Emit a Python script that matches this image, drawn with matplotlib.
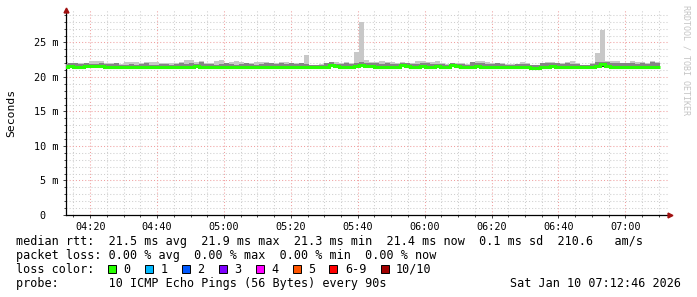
import numpy as np
import matplotlib
matplotlib.use('Agg')
import matplotlib.pyplot as plt
import matplotlib.dates as mdates
from matplotlib.ticker import MultipleLocator, FuncFormatter
from matplotlib.patches import Rectangle
from datetime import datetime, timedelta

plt.rcParams['font.family'] = ['DejaVu Sans Mono']

# ---- data (ms), one bin per 90s probe round ----
t_first = datetime(2026, 1, 10, 4, 12, 0)
t_view0 = datetime(2026, 1, 10, 4, 12, 46)
t_view1 = datetime(2026, 1, 10, 7, 12, 46)
step_s = 90

med = [21.5, 21.6, 21.5, 21.5, 21.6, 21.6, 21.6, 21.6, 21.5, 21.5,
       21.5, 21.4, 21.4, 21.5, 21.5, 21.5, 21.5, 21.5, 21.5, 21.4,
       21.4, 21.5, 21.5, 21.4, 21.5, 21.5, 21.6, 21.5, 21.5, 21.5,
       21.5, 21.5, 21.5, 21.5, 21.4, 21.5, 21.5, 21.4, 21.4, 21.5,
       21.5, 21.5, 21.4, 21.4, 21.5, 21.4, 21.5, 21.4, 21.5, 21.4,
       21.4, 21.5, 21.4, 21.8, 21.6, 21.5, 21.5, 21.5, 21.6, 21.7,
       21.6, 21.6, 21.5, 21.5, 21.4, 21.5, 21.5, 21.8, 21.6, 21.5,
       21.5, 21.6, 21.5, 21.5, 21.6, 21.5, 21.5, 21.8, 21.6, 21.5,
       21.5, 21.4, 21.6, 21.5, 21.5, 21.5, 21.5, 21.5, 21.4, 21.4,
       21.5, 21.5, 21.4, 21.3, 21.3, 21.5, 21.5, 21.6, 21.5, 21.5,
       21.5, 21.5, 21.5, 21.4, 21.4, 21.5, 21.6, 21.9, 21.6, 21.5,
       21.5, 21.4, 21.4, 21.5, 21.5, 21.5, 21.5, 21.5, 21.5]

ping_max = [22.21, 22.07, 22.07, 22.02, 22.02, 22.31, 22.36, 22.26, 22.07, 22.02,
            22.07, 21.92, 22.21, 22.21, 22.21, 22.02, 22.11, 22.21, 22.21, 22.02,
            22.02, 22.02, 21.97, 22.11, 22.50, 22.50, 22.21, 22.36, 22.02, 22.02,
            22.26, 22.50, 22.02, 22.11, 22.36, 22.11, 22.02, 22.02, 22.21, 22.21,
            22.11, 22.02, 22.02, 22.11, 22.11, 22.07, 22.07, 22.07, 23.22, 21.78,
            21.78, 21.92, 22.02, 22.21, 22.21, 22.02, 22.21, 22.02, 23.56, 27.90,
            22.50, 22.11, 22.11, 22.36, 22.21, 22.11, 22.02, 22.21, 22.02, 22.02,
            22.26, 22.26, 22.11, 22.21, 22.36, 22.02, 21.92, 22.02, 22.02, 22.02,
            21.92, 22.21, 22.36, 22.31, 22.21, 22.02, 22.02, 22.02, 21.88, 21.88,
            21.92, 22.21, 22.02, 21.78, 21.78, 22.02, 22.21, 22.11, 22.02, 22.02,
            22.21, 22.36, 22.02, 21.78, 21.78, 22.02, 23.46, 26.80, 22.26, 22.26,
            22.26, 22.02, 22.02, 22.36, 22.11, 22.21, 22.02, 22.36, 22.11]

ping_upper = [21.9, 22.0, 22.0, 21.9, 22.0, 21.9, 21.9, 22.0, 21.9, 21.9,
              22.0, 21.8, 21.8, 21.9, 21.8, 21.9, 22.0, 21.8, 21.8, 21.9,
              21.9, 21.8, 21.9, 22.0, 21.9, 22.0, 21.9, 22.1, 21.9, 21.9,
              21.8, 21.9, 22.0, 21.9, 21.8, 21.9, 22.0, 21.9, 21.8, 21.9,
              22.0, 22.0, 21.9, 22.0, 21.9, 22.0, 21.9, 22.0, 21.9, 21.7,
              21.7, 21.8, 22.0, 22.1, 21.9, 21.9, 22.0, 21.9, 22.0, 22.1,
              22.0, 22.0, 22.0, 21.9, 22.0, 21.9, 21.9, 22.0, 22.0, 21.9,
              21.9, 22.0, 22.0, 21.9, 21.9, 21.9, 21.8, 22.0, 21.9, 21.9,
              21.8, 22.1, 22.0, 22.0, 21.9, 21.9, 22.0, 21.9, 21.8, 21.8,
              21.9, 21.9, 21.9, 21.7, 21.7, 22.0, 22.0, 22.0, 22.0, 21.9,
              22.0, 21.9, 21.9, 21.7, 21.7, 21.9, 22.1, 22.2, 22.1, 22.0,
              22.0, 22.0, 22.0, 22.0, 21.9, 22.0, 21.9, 22.1, 22.0]

ping_min = [21.3, 21.4, 21.2, 21.3, 21.4, 21.4, 21.4, 21.4, 21.3, 21.3,
            21.3, 21.2, 21.2, 21.3, 21.3, 21.3, 21.3, 21.3, 21.3, 21.2,
            21.2, 21.3, 21.3, 21.2, 21.3, 21.3, 21.4, 21.3, 21.3, 21.3,
            21.3, 21.3, 21.3, 21.3, 21.2, 21.3, 21.3, 21.2, 21.2, 21.3,
            21.3, 21.3, 21.2, 21.2, 21.3, 21.2, 21.3, 21.2, 21.3, 21.2,
            21.2, 21.3, 21.1, 21.6, 21.4, 21.3, 21.3, 21.3, 21.4, 21.5,
            21.4, 21.4, 21.3, 21.3, 21.2, 21.3, 21.3, 21.5, 21.4, 21.3,
            21.3, 21.4, 21.3, 21.3, 21.4, 21.3, 21.3, 21.5, 21.4, 21.3,
            21.3, 21.1, 21.4, 21.3, 21.3, 21.3, 21.3, 21.3, 21.2, 21.2,
            21.3, 21.3, 21.2, 21.1, 21.1, 21.3, 21.3, 21.4, 21.3, 21.3,
            21.3, 21.3, 21.3, 21.2, 21.2, 21.3, 21.4, 21.5, 21.4, 21.3,
            21.3, 21.2, 21.2, 21.3, 21.3, 21.3, 21.3, 21.3, 21.3]

loss_labels = ['0', '1', '2', '3', '4', '5', '6-9', '10/10']
loss_colors = ['#26ff00', '#00b8ff', '#0059ff', '#7e00ff', '#ff00ff',
               '#ff5500', '#ff0000', '#a10000']

W, H = 697, 297
fig = plt.figure(figsize=(W / 100, H / 100), dpi=100)
fig.patch.set_facecolor('white')
ax = fig.add_axes([66 / W, (H - 215) / H, (668 - 66) / W, (215 - 10) / H])

edges = [t_first + timedelta(seconds=step_s * i) for i in range(len(med) + 1)]
xe = mdates.date2num(edges)

# smoke: light outer, darker inner, then the median line
ax.stairs(ping_max, xe, baseline=ping_min, fill=True, color='#c8c8c8', zorder=2)
ax.stairs(ping_upper, xe, baseline=ping_min, fill=True, color='#858585', zorder=3)
ax.stairs(med, xe, baseline=ping_min, fill=True, color='#303030', zorder=4)
ax.stairs(med, xe, baseline=None, color='#26ff00', linewidth=2.2, zorder=5)

ax.set_xlim(mdates.date2num(t_view0), mdates.date2num(t_view1))
ax.set_ylim(0, 29.7)

ax.xaxis.set_major_locator(mdates.MinuteLocator(byminute=[0, 20, 40]))
ax.xaxis.set_minor_locator(mdates.MinuteLocator(byminute=range(0, 60, 5)))
ax.xaxis.set_major_formatter(mdates.DateFormatter('%H:%M'))
ax.yaxis.set_major_locator(MultipleLocator(5))
ax.yaxis.set_minor_locator(MultipleLocator(1))
ax.yaxis.set_major_formatter(FuncFormatter(lambda v, p: '0  ' if v == 0 else '%d m' % v))

ax.set_axisbelow(True)
ax.grid(which='minor', color='#cfcfcf', linestyle=(0, (1, 2)), linewidth=0.75)
ax.grid(which='major', color='#f0a0a0', linestyle=(0, (1, 2)), linewidth=0.75)

for s in ['top', 'right']:
    ax.spines[s].set_visible(False)
for s in ['left', 'bottom']:
    ax.spines[s].set_linewidth(0.9)
    ax.spines[s].set_color('black')

ax.tick_params(which='both', direction='out', color='#404040', width=0.7,
               labelsize=7.3, pad=3)
ax.tick_params(which='major', length=2.2)
ax.tick_params(which='minor', length=1.5)

ax.plot([0], [1], marker='^', color='#a01010', markersize=3.5,
        transform=ax.transAxes, clip_on=False, zorder=10)
ax.plot([1.003], [0], marker='>', color='#a01010', markersize=3.5,
        transform=ax.transAxes, clip_on=False, zorder=10)

fig.text(11 / W, 1 - 113 / H, 'Seconds', rotation=90, ha='center', va='center',
         fontsize=8.2)
fig.text(686 / W, 1 - 60 / H, 'RRDTOOL / TOBI OETIKER', rotation=-90,
         ha='center', va='center', fontsize=6, color='#c4c4c4')

# ---- legend block ----
fs = 8.5
rows = [241, 255.7, 269.3, 283.7]
fig.text(16 / W, 1 - rows[0] / H,
         'median rtt:  21.5 ms avg  21.9 ms max  21.3 ms min  21.4 ms now  0.1 ms sd  210.6   am/s',
         ha='left', va='center', fontsize=fs)
fig.text(16 / W, 1 - rows[1] / H,
         'packet loss: 0.00 % avg  0.00 % max  0.00 % min  0.00 % now',
         ha='left', va='center', fontsize=fs)
fig.text(16 / W, 1 - rows[2] / H, 'loss color:', ha='left', va='center', fontsize=fs)
bx = 108.0
for lab, col in zip(loss_labels, loss_colors):
    fig.patches.append(Rectangle((bx / W, 1 - (rows[2] + 4) / H), 8 / W, 8 / H,
                                 transform=fig.transFigure, facecolor=col,
                                 edgecolor='black', linewidth=0.7))
    fig.text((bx + 15.6) / W, 1 - rows[2] / H, lab, ha='left', va='center', fontsize=fs)
    bx += 15.6 + 7.1 * (len(lab) + 2)
fig.text(16 / W, 1 - rows[3] / H,
         'probe:       10 ICMP Echo Pings (56 Bytes) every 90s',
         ha='left', va='center', fontsize=fs)
fig.text(681 / W, 1 - rows[3] / H, 'Sat Jan 10 07:12:46 2026',
         ha='right', va='center', fontsize=fs)

fig.savefig('out.png', dpi=100, facecolor='white')
